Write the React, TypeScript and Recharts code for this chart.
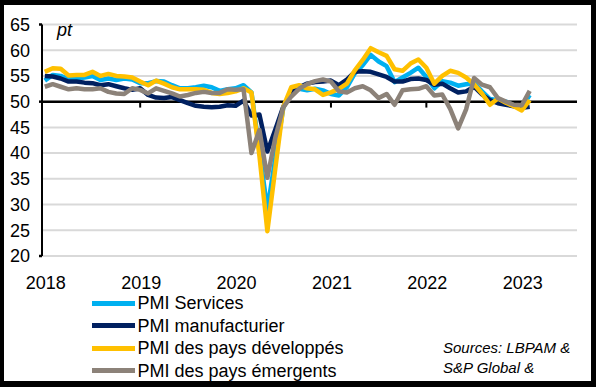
import { CartesianGrid, Legend, Line, LineChart, ReferenceLine, XAxis, YAxis } from 'recharts';

const FONT = '"Liberation Sans", Arial, sans-serif';

const yearLabels = ['2018', '2019', '2020', '2021', '2022', '2023'];
const yearTicks = [0, 12, 24, 36, 48, 60];
const yTicks = [20, 25, 30, 35, 40, 45, 50, 55, 60, 65];

const services = [
  54.1, 55.2, 55.0, 54.4, 54.5, 54.7, 55.0, 54.2, 54.5, 54.2, 54.5, 54.3,
  53.6, 53.6, 54.0, 53.9, 53.2, 52.6, 52.6, 52.8, 53.1, 52.8, 52.1, 52.4,
  52.6, 53.2, 51.8, 40.5, 29.0, 39.0, 48.8, 52.2, 52.5, 52.2, 52.5, 52.2,
  51.5, 51.2, 52.8, 55.5, 57.1, 59.1, 57.8, 56.9, 53.8, 54.7, 55.6, 56.6,
  54.8, 52.6, 54.0, 53.7, 53.1, 53.4, 53.6, 52.0, 50.5, 50.3, 50.0, 49.3,
  48.9, 51.3,
];
const manufacturing = [
  55.0, 54.9, 54.5, 53.9, 53.9, 53.7, 53.6, 53.2, 53.4, 53.0, 52.6, 52.3,
  52.6, 51.3, 50.8, 50.7, 50.9, 50.3, 49.7, 49.2, 49.0, 48.9, 49.0, 49.3,
  49.2, 50.2, 47.3, 47.5, 40.3, 44.6, 49.0, 51.8, 52.8, 53.5, 53.8, 53.9,
  54.1, 53.2, 54.3, 55.8, 55.9, 55.8, 55.3, 54.8, 53.9, 53.9, 54.4, 54.5,
  54.2, 53.3, 53.5, 52.6, 51.8, 52.0, 52.9, 51.4, 50.3, 49.7, 49.4, 49.1,
  48.8, 49.0,
];
const developed = [
  55.8, 56.5, 56.4, 55.1, 55.2, 55.2, 55.8, 55.0, 55.4, 55.0, 54.9, 54.7,
  53.9, 53.2, 54.1, 53.5, 52.8, 52.4, 52.4, 52.4, 52.3, 51.7, 51.5, 51.7,
  52.0, 52.6, 51.8, 39.5, 24.8, 37.0, 49.0, 52.8, 53.2, 52.6, 52.4, 51.3,
  51.8, 52.5, 53.5, 56.1, 58.1, 60.4, 59.6, 58.9, 56.3, 56.0, 57.4, 58.2,
  56.6, 53.5, 55.0, 56.0, 55.6, 54.7, 53.4, 51.6, 49.4, 50.6, 49.8, 49.1,
  48.3, 50.3,
];
const emerging = [
  52.9, 53.4, 52.9, 52.4, 52.6, 52.4, 52.4, 52.6, 51.9, 51.6, 51.5, 52.6,
  52.3, 51.6, 52.6, 52.1, 51.6, 51.0, 51.3, 51.7, 51.9, 51.7, 51.7, 52.4,
  52.3, 52.4, 40.0, 44.5, 35.2, 43.0, 48.9, 51.0, 52.5, 53.4, 54.0, 54.3,
  53.9, 52.0, 51.8, 52.6, 53.0, 52.2, 50.7, 51.5, 49.4, 52.2, 52.4, 52.5,
  53.0, 51.2, 51.4, 48.6, 44.8, 48.5, 54.6, 53.3, 52.8, 50.7, 50.0, 49.4,
  49.3, 52.1,
];

const data = services.map((v, i) => ({
  i,
  services: v,
  manuf: manufacturing[i],
  dev: developed[i],
  em: emerging[i],
}));

const series = [
  { key: 'services', name: 'PMI Services', color: '#00b0f0' },
  { key: 'manuf', name: 'PMI manufacturier', color: '#002060' },
  { key: 'dev', name: 'PMI des pays développés', color: '#ffc000' },
  { key: 'em', name: 'PMI des pays émergents', color: '#8c8279' },
];

function YTick({ x, y, payload }: any) {
  const v = payload.value;
  const mark = v === 65 || v === 50 || v === 20;
  return (
    <g>
      {mark && <line x1={x - 3} x2={x} y1={y} y2={y} stroke="#000" strokeWidth={2.5} />}
      <text x={x - 12} y={y} dy="0.35em" textAnchor="end" fontSize={18} fontFamily={FONT} fill="#000">
        {v}
      </text>
    </g>
  );
}

function XTick({ x, y, payload }: any) {
  const idx = yearTicks.indexOf(payload.value);
  return (
    <text x={x + 1} y={y + 33} textAnchor="middle" fontSize={18} fontFamily={FONT} fill="#000">
      {yearLabels[idx]}
    </text>
  );
}

// keep the legend in series order (recharts sorts payload by name)
function LegendBox({ payload }: any) {
  const items = [...(payload || [])].sort(
    (a: any, b: any) =>
      series.findIndex((s) => s.name === a.value) - series.findIndex((s) => s.name === b.value)
  );
  return (
    <div style={{ fontFamily: FONT, fontSize: 18, color: '#000' }}>
      {items.map((p: any) => (
        <div key={p.value} style={{ display: 'flex', alignItems: 'center', height: 22.5, lineHeight: '22.5px' }}>
          <div style={{ width: 43, height: 5, background: p.color, marginRight: 3 }} />
          <span style={{ whiteSpace: 'nowrap' }}>{p.value}</span>
        </div>
      ))}
    </div>
  );
}

export default function App() {
  return (
    <div style={{ position: 'fixed', left: 0, top: 0, width: 596, height: 387, background: '#fff' }}>
      <LineChart width={596} height={387} data={data} margin={{ top: 24.5, right: 19, bottom: 91, left: 0 }}>
        <CartesianGrid horizontal vertical={false} stroke="#d9d9d9" strokeWidth={2} />
        <XAxis
          dataKey="i"
          type="number"
          domain={[-0.35, 66.95]}
          ticks={yearTicks}
          interval={0}
          height={40}
          axisLine={false}
          tickLine={false}
          tickSize={0}
          tickMargin={0}
          tick={<XTick />}
          allowDataOverflow
        />
        <YAxis
          type="number"
          domain={[20, 65]}
          ticks={yTicks}
          interval={0}
          width={42}
          axisLine={{ stroke: '#000', strokeWidth: 2 }}
          tickLine={false}
          tickSize={0}
          tickMargin={0}
          tick={<YTick />}
        />
        <ReferenceLine y={50} stroke="#000" strokeWidth={2.5} />
        {yearTicks.slice(1).map((t) => (
          <ReferenceLine
            key={t}
            segment={[
              { x: t, y: 50 },
              { x: t, y: 48.85 },
            ]}
            stroke="#000"
            strokeWidth={2}
          />
        ))}
        {series.map((s) => (
          <Line
            key={s.key}
            type="linear"
            dataKey={s.key}
            name={s.name}
            stroke={s.color}
            strokeWidth={4.5}
            strokeLinejoin="round"
            dot={false}
            activeDot={false}
            isAnimationActive={false}
          />
        ))}
        <Legend
          layout="vertical"
          align="center"
          verticalAlign="middle"
          content={<LegendBox />}
          wrapperStyle={{ left: 91.5, top: 292, width: 300 }}
        />
      </LineChart>
      <div
        style={{
          position: 'absolute',
          left: 57,
          top: 20.8,
          fontFamily: FONT,
          fontSize: 18,
          fontStyle: 'italic',
          lineHeight: '18px',
        }}
      >
        pt
      </div>
      <div
        style={{
          position: 'absolute',
          left: 443,
          top: 338,
          fontFamily: FONT,
          fontSize: 15,
          fontStyle: 'italic',
          lineHeight: '20px',
          whiteSpace: 'nowrap',
        }}
      >
        Sources: LBPAM &amp;
        <br />
        S&amp;P Global &amp;
      </div>
      <div
        style={{
          position: 'absolute',
          left: 0,
          top: 0,
          width: 596,
          height: 387,
          boxSizing: 'border-box',
          borderStyle: 'solid',
          borderColor: '#000',
          borderWidth: '5px 5px 6px 4px',
          pointerEvents: 'none',
        }}
      />
    </div>
  );
}
